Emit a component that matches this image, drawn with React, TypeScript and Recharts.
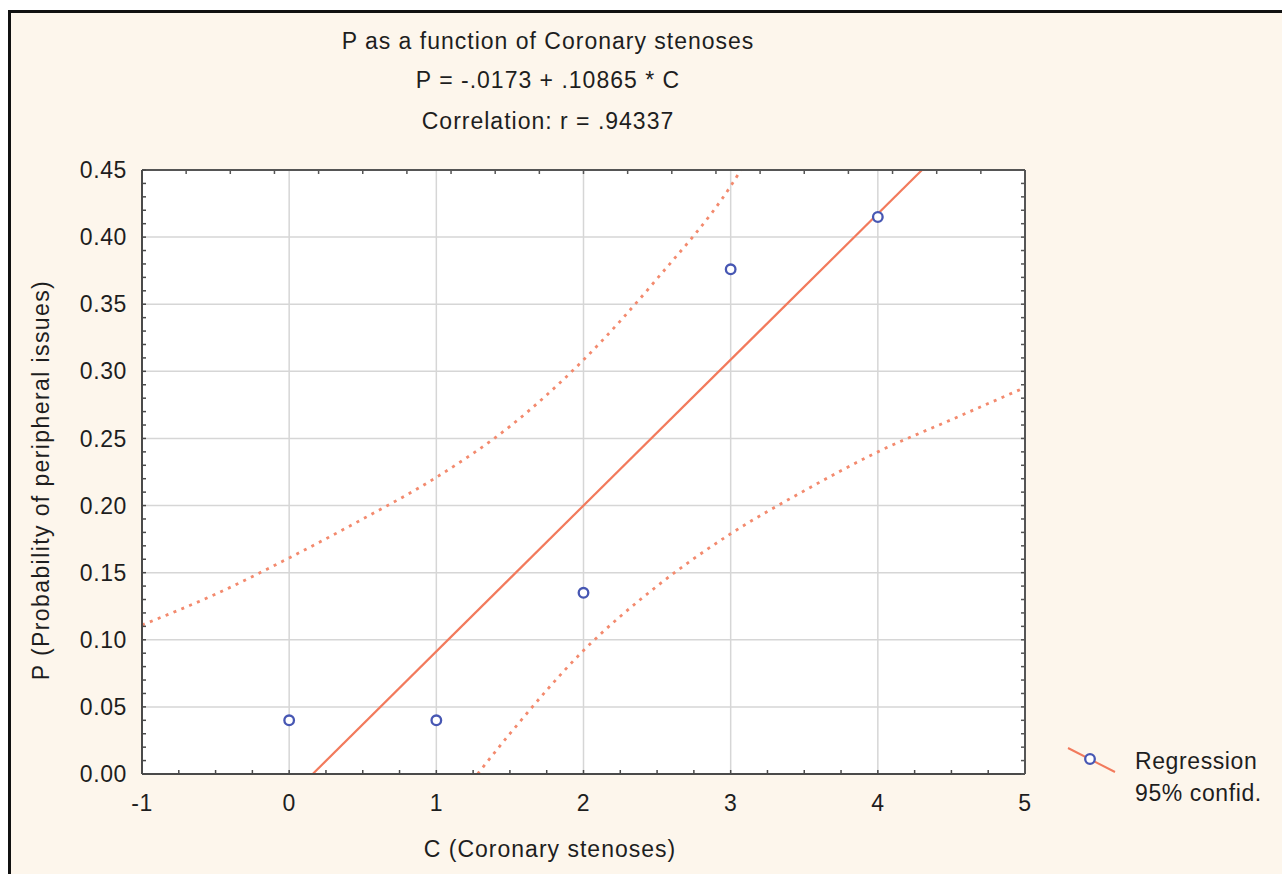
import React from 'react';
import { ComposedChart, Line, Scatter, XAxis, YAxis, CartesianGrid, Legend, Label } from 'recharts';

const titleLines = ['P as a function of Coronary stenoses', 'P = -.0173 + .10865 * C', 'Correlation: r = .94337'];
const xTitle = 'C (Coronary stenoses)';
const yTitle = 'P (Probability of peripheral issues)';
const legendLabels = ['Regression', '95% confid.'];

// observed points
const stenoses = [0, 1, 2, 3, 4];
const probability = [0.04, 0.04, 0.135, 0.376, 0.415];

// regression line, clipped to the plot box
const fitC = [0.16, 4.3];
const fitP = [0, 0.45];

// 95% confidence bands
const upperC = [-1, -0.5, 0, 0.5, 1, 1.5, 2, 2.5, 3, 3.07];
const upperP = [0.111, 0.134, 0.161, 0.19, 0.221, 0.259, 0.3085, 0.369, 0.438, 0.45];
const lowerC = [1.28, 1.5, 2, 2.5, 3, 3.5, 4, 4.5, 5];
const lowerP = [0, 0.03, 0.092, 0.14, 0.179, 0.211, 0.24, 0.264, 0.288];

const xTicks = [-1, 0, 1, 2, 3, 4, 5];
const yTicks = [0, 0.05, 0.1, 0.15, 0.2, 0.25, 0.3, 0.35, 0.4, 0.45];
const xMinorTicks = [-1, -0.75, -0.5, -0.25, 0, 0.25, 0.5, 0.75, 1, 1.25, 1.5, 1.75, 2, 2.25, 2.5, 2.75, 3, 3.25, 3.5, 3.75, 4, 4.25, 4.5, 4.75, 5];
const xTopTicks = [-1, -0.7, -0.4, -0.1, 0.2, 0.5, 0.8, 1.1, 1.4, 1.7, 2, 2.3, 2.6, 2.9, 3.2, 3.5, 3.8, 4.1, 4.4, 4.7, 5];
const yMinorTicks = [
  0, 0.01, 0.02, 0.03, 0.04, 0.05, 0.06, 0.07, 0.08, 0.09,
  0.1, 0.11, 0.12, 0.13, 0.14, 0.15, 0.16, 0.17, 0.18, 0.19,
  0.2, 0.21, 0.22, 0.23, 0.24, 0.25, 0.26, 0.27, 0.28, 0.29,
  0.3, 0.31, 0.32, 0.33, 0.34, 0.35, 0.36, 0.37, 0.38, 0.39,
  0.4, 0.41, 0.42, 0.43, 0.44, 0.45,
];

const toRows = (xs: number[], ys: number[]) => xs.map((c, i) => ({ c, p: ys[i] }));
const points = toRows(stenoses, probability);
const fitRows = toRows(fitC, fitP);
const upperRows = toRows(upperC, upperP);
const lowerRows = toRows(lowerC, lowerP);

const FONT = '"Liberation Sans", Arial, sans-serif';
const LINE = '#f27a5c';
const BAND = '#f38a6e';
const DOT = '#4757b3';
const AXIS = '#4a4a4a';
const TEXT = '#1e1e1e';

const noLabel = () => <g />;

const Dot = (props: any) => (
  <circle cx={props.cx} cy={props.cy} r={4.8} fill="#fff" stroke={DOT} strokeWidth={2.3} />
);

const LegendBox = () => (
  <svg width={220} height={70} style={{ display: 'block', overflow: 'visible' }}>
    <line x1={7} y1={5} x2={54} y2={29} stroke={LINE} strokeWidth={2} />
    <circle cx={29} cy={16} r={4.8} fill="#fff" stroke={DOT} strokeWidth={2.3} />
    <text x={74} y={26} fontSize={23} letterSpacing={0.6} fill={TEXT}>{legendLabels[0]}</text>
    <text x={74} y={58} fontSize={23} letterSpacing={0.6} fill={TEXT}>{legendLabels[1]}</text>
  </svg>
);

// invisible series so the tick-only axes get a scale
const TickCarrier = (props: { xAxisId?: string; yAxisId?: string }) => (
  <Line
    {...props}
    data={points}
    dataKey="p"
    stroke="none"
    dot={false}
    activeDot={false}
    legendType="none"
    isAnimationActive={false}
  />
);

export default function App() {
  return (
    <div
      style={{
        position: 'absolute',
        left: 8,
        top: 10,
        width: 1274,
        height: 864,
        boxSizing: 'border-box',
        borderLeft: '3px solid #111',
        borderTop: '3px solid #111',
        background: '#fdf6ec',
        fontFamily: FONT,
        color: TEXT,
        overflow: 'hidden',
      }}
    >
      {titleLines.map((t, i) => (
        <div
          key={t}
          style={{
            position: 'absolute',
            left: 237,
            width: 600,
            top: [17, 56, 97][i],
            textAlign: 'center',
            fontSize: 23,
            lineHeight: '23px',
            letterSpacing: 1,
          }}
        >
          {t}
        </div>
      ))}
      <ComposedChart
        width={1271}
        height={861}
        margin={{ top: 157, right: 257, left: 31, bottom: 40 }}
        style={{ fontFamily: FONT }}
      >
        <CartesianGrid fill="#ffffff" stroke="#d6d6d6" strokeWidth={1.5} />
        <XAxis
          dataKey="c"
          type="number"
          domain={[-1, 5]}
          ticks={xTicks}
          interval={0}
          height={60}
          axisLine={{ stroke: AXIS, strokeWidth: 2 }}
          tickLine={false}
          tickSize={0}
          tickMargin={21}
          tick={{ fontSize: 23, fill: TEXT, letterSpacing: 0.6 }}
        >
          <Label
            content={() => (
              <text x={539} y={844} textAnchor="middle" fontSize={23} letterSpacing={1} fill={TEXT}>
                {xTitle}
              </text>
            )}
          />
        </XAxis>
        <XAxis
          xAxisId="minorB"
          dataKey="c"
          type="number"
          domain={[-1, 5]}
          ticks={xMinorTicks}
          interval={0}
          mirror
          axisLine={false}
          tickLine={{ stroke: AXIS, strokeWidth: 1.5 }}
          tickSize={4}
          tick={noLabel}
        />
        <XAxis
          xAxisId="top"
          dataKey="c"
          orientation="top"
          type="number"
          domain={[-1, 5]}
          ticks={xTopTicks}
          interval={0}
          mirror
          axisLine={{ stroke: '#555', strokeWidth: 2 }}
          tickLine={{ stroke: '#555', strokeWidth: 1.5 }}
          tickSize={4}
          tick={noLabel}
        />
        <YAxis
          type="number"
          domain={[0, 0.45]}
          ticks={yTicks}
          interval={0}
          width={100}
          axisLine={{ stroke: AXIS, strokeWidth: 2 }}
          tickLine={false}
          tickSize={0}
          tickMargin={15}
          tickFormatter={(v: number) => v.toFixed(2)}
          tick={{ fontSize: 23, fill: TEXT, letterSpacing: 0.6 }}
        >
          <Label
            content={() => (
              <text
                x={38}
                y={467}
                transform="rotate(-90, 38, 467)"
                textAnchor="middle"
                fontSize={23}
                letterSpacing={1.4}
                fill={TEXT}
              >
                {yTitle}
              </text>
            )}
          />
        </YAxis>
        <YAxis
          yAxisId="minorL"
          type="number"
          domain={[0, 0.45]}
          ticks={yMinorTicks}
          interval={0}
          mirror
          axisLine={false}
          tickLine={{ stroke: AXIS, strokeWidth: 1.5 }}
          tickSize={4}
          tick={noLabel}
        />
        <YAxis
          yAxisId="right"
          orientation="right"
          type="number"
          domain={[0, 0.45]}
          ticks={yMinorTicks}
          interval={0}
          mirror
          axisLine={{ stroke: '#555', strokeWidth: 2 }}
          tickLine={{ stroke: '#555', strokeWidth: 1.5 }}
          tickSize={4}
          tick={noLabel}
        />
        {TickCarrier({ xAxisId: 'minorB' })}
        {TickCarrier({ xAxisId: 'top' })}
        {TickCarrier({ yAxisId: 'minorL' })}
        {TickCarrier({ yAxisId: 'right' })}
        <Line
          data={upperRows}
          dataKey="p"
          type="monotone"
          stroke={BAND}
          strokeWidth={2.8}
          strokeDasharray="3 5.5"
          dot={false}
          activeDot={false}
          isAnimationActive={false}
        />
        <Line
          data={lowerRows}
          dataKey="p"
          type="monotone"
          stroke={BAND}
          strokeWidth={2.8}
          strokeDasharray="3 5.5"
          dot={false}
          activeDot={false}
          isAnimationActive={false}
        />
        <Line
          data={fitRows}
          dataKey="p"
          type="linear"
          stroke={LINE}
          strokeWidth={2.2}
          dot={false}
          activeDot={false}
          isAnimationActive={false}
        />
        <Scatter data={points} dataKey="p" shape={Dot} isAnimationActive={false} />
        <Legend
          layout="vertical"
          align="center"
          verticalAlign="middle"
          content={() => <LegendBox />}
          wrapperStyle={{ left: 1050, top: 730, width: 220, height: 70 }}
        />
      </ComposedChart>
    </div>
  );
}
